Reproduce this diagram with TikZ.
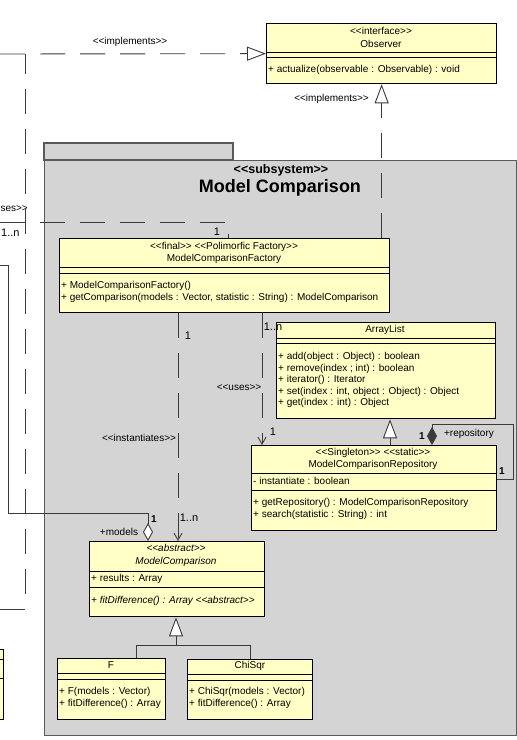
\documentclass[tikz,border=0pt]{standalone}
\usepackage{fontspec}
\setmainfont{Liberation Sans}[Ligatures=TeXOff]
\usetikzlibrary{arrows.meta,calc}
\definecolor{umlyellow}{HTML}{FFFFC6}
\definecolor{pkggray}{HTML}{D4D4D4}
\definecolor{pkgline}{HTML}{5A5A5A}
\definecolor{dline}{HTML}{3A3A3A}
\begin{document}
\begin{tikzpicture}[x=1pt,y=-1pt,
  cls/.style={draw=black, fill=umlyellow, line width=1.3pt, inner sep=0pt, anchor=north west},
  sep/.style={line width=1pt},
  t/.style={inner sep=0pt, font=\fontsize{10}{12}\selectfont},
  ti/.style={inner sep=0pt, font=\fontsize{10}{12}\selectfont\itshape},
  tl/.style={t, anchor=west},
  mult/.style={inner sep=0pt, font=\fontsize{11}{13}\selectfont},
  multb/.style={inner sep=0pt, font=\fontsize{10}{12}\selectfont\bfseries},
  dep/.style={draw=dline, line width=0.9pt, dash pattern=on 25pt off 15pt},
  assoc/.style={draw=dline, line width=0.9pt},
  realize/.style={dep, -{Triangle[open, length=19pt, width=14pt, fill=white]}},
  gen/.style={assoc, -{Triangle[open, length=19pt, width=14pt, fill=white]}},
  openarr/.style={-{Straight Barb[length=7pt, width=8pt]}},
]
\useasboundingbox (0,0) rectangle (517,740);
\clip (0,0) rectangle (517,740);
\fill[white] (0,0) rectangle (517,740);

% package
\draw[fill=pkggray, draw=pkgline, line width=1.2pt] (44,143) rectangle (233,160);
\node[draw=pkgline, fill=pkggray, line width=1.2pt, anchor=north west, inner sep=0pt,
      minimum width=472pt, minimum height=575pt] (pkg) at (44,160) {};
\node[inner sep=0pt, font=\fontsize{12.5}{14}\selectfont\bfseries] (pkgst) at (281,170) {<<subsystem>>};
\node[inner sep=0pt, font=\fontsize{18}{20}\selectfont\bfseries] (pkgnm) at (280,188) {Model Comparison};

% classes (boxes only, so connectors can refer to them)
\node[cls, minimum width=230pt, minimum height=60pt] (obs) at (266,23) {};
\node[cls, minimum width=330pt, minimum height=74pt] (fac) at (59,238) {};
\node[cls, minimum width=219pt, minimum height=96pt] (arr) at (276,322) {};
\node[cls, minimum width=245pt, minimum height=85pt] (repo) at (251,445) {};
\node[cls, minimum width=175pt, minimum height=75pt] (mc) at (89,541) {};
\node[cls, minimum width=108pt, minimum height=61pt] (f) at (57,658) {};
\node[cls, minimum width=125pt, minimum height=60pt] (chi) at (187,659) {};
\node[cls, minimum width=20pt, minimum height=70pt] (lbox) at (-17,649) {};

% compartments
\foreach \n/\a/\b in {obs/29/34, fac/29/35, arr/16/21, repo/28/45, mc/30/46, f/15/21, chi/15/21, lbox/10/29}{
  \draw[sep] ($(\n.north west)+(0,\a)$) -- ($(\n.north east)+(0,\a)$);
  \draw[sep] ($(\n.north west)+(0,\b)$) -- ($(\n.north east)+(0,\b)$);
}

% connectors
\coordinate (implL) at (0,54);
\draw[realize] (implL) -- (obs.west);
\coordinate (leftB) at (0,609);
\coordinate (implJ) at (25,54);
\draw[dep] (leftB) -| (implJ);
\draw[realize] (obs.south |- fac.north) -- (obs.south);

\coordinate (usesL) at (0,222);
\coordinate (facIn) at ($(fac.north west)+(169,0)$);
\draw[dep] (usesL) -| (facIn);

\coordinate (aggL) at (0,265);
\coordinate (aggBend) at (8,513);
\coordinate (aggS) at ($(mc.north west)+(59,0)$);
\draw[assoc, {Diamond[open, length=18pt, width=10pt, fill=white]}-] (aggS) |- (aggBend) |- (aggL);

\coordinate (usesS) at ($(fac.south west)+(203,0)$);
\draw[dep, openarr] (usesS) -- (usesS |- repo.north);
\coordinate (instS) at ($(fac.south west)+(119,0)$);
\draw[dep, openarr] (instS) -- (instS |- mc.north);

\coordinate (genR) at ($(repo.north west)+(139,0)$);
\draw[gen] (genR) -- (genR |- arr.south);

\coordinate (compS) at ($(repo.north west)+(181,0)$);
\coordinate (compE) at ($(repo.north east)+(0,34)$);
\draw[assoc, {Diamond[length=18pt, width=10pt]}-] (compS) -- ++(0,-21) -| ($(compE)+(16,0)$) -- (compE);

\coordinate (genMC) at ($(mc.south west)+(87,0)$);
\coordinate (genJ) at ($(genMC)+(0,28)$);
\coordinate (fTop) at ($(f.north west)+(79,0)$);
\draw[assoc] (fTop) |- (genJ) -| (chi.north);
\draw[gen] (genJ) -- (genMC);

% class texts
\node[t] (obsSt) at (381,31) {<<interface>>};
\node[t] (obsNm) at (381,44) {Observer};
\node[tl] (obsOp) at (268,70) {+ actualize(observable : Observable) : void};

\node[t] (facSt) at (224,247) {<<final>> <<Polimorfic Factory>>};
\node[t] (facNm) at (224,259) {ModelComparisonFactory};
\node[tl] (facOp1) at (61,286) {+ ModelComparisonFactory()};
\node[tl] (facOp2) at (61,298) {+ getComparison(models : Vector, statistic : String) : ModelComparison};

\node[t] (arrNm) at (385,330) {ArrayList};
\node[tl] (arrOp1) at (278,357) {+ add(object : Object) : boolean};
\node[tl] (arrOp2) at (278,368.5) {+ remove(index ; int) : boolean};
\node[tl] (arrOp3) at (278,380) {+ iterator() : Iterator};
\node[tl] (arrOp4) at (278,391.5) {+ set(index : int, object : Object) : Object};
\node[tl] (arrOp5) at (278,403) {+ get(index : int) : Object};

\node[t] (repoSt) at (373,453) {<<Singleton>> <<static>>};
\node[t] (repoNm) at (373,465) {ModelComparisonRepository};
\node[tl] (repoAt) at (253,481) {- instantiate : boolean};
\node[tl] (repoOp1) at (253,503) {+ getRepository() : ModelComparisonRepository};
\node[tl] (repoOp2) at (253,515) {+ search(statistic : String) : int};

\node[ti] (mcSt) at (176,548) {<<abstract>>};
\node[ti] (mcNm) at (176,562) {ModelComparison};
\node[tl] (mcAt) at (91,579) {+ results : Array};
\node[ti, anchor=west] (mcOp) at (91,601) {+ fitDifference() : Array <<abstract>>};

\node[t] (fNm) at (111,665) {F};
\node[tl] (fOp1) at (59,692) {+ F(models : Vector)};
\node[tl] (fOp2) at (59,704) {+ fitDifference() : Array};

\node[t] (chiNm) at (250,666) {ChiSqr};
\node[tl] (chiOp1) at (189,692) {+ ChiSqr(models : Vector)};
\node[tl] (chiOp2) at (189,704) {+ fitDifference() : Array};

% connector labels
\node[t] (lImpl1) at (130,42) {<<implements>>};
\node[t, anchor=east] (lImpl2) at (369,99) {<<implements>>};
\node[t, anchor=east] (lUsesL) at (28,209) {ses>>};
\node[mult, anchor=west] (mUsesL) at (1,233) {1..n};
\node[mult] (mUsesF) at (217,232) {1};
\node[mult] (mInst1) at (188,336) {1};
\node[mult] (mUses1) at (273,327) {1..n};
\node[t] (lUses) at (239,388) {<<uses>>};
\node[mult] (mUses2) at (273,432) {1};
\node[t] (lInst) at (139,438) {<<instantiates>>};
\node[mult] (mInst2) at (189,518) {1..n};
\node[multb] (mAgg) at (154,519) {1};
\node[t] (lModels) at (119,532) {+models};
\node[multb] (mComp1) at (422,436) {1};
\node[t] (lRepo) at (469,434) {+repository};
\node[multb] (mComp2) at (502,471) {1};
\end{tikzpicture}
\end{document}
